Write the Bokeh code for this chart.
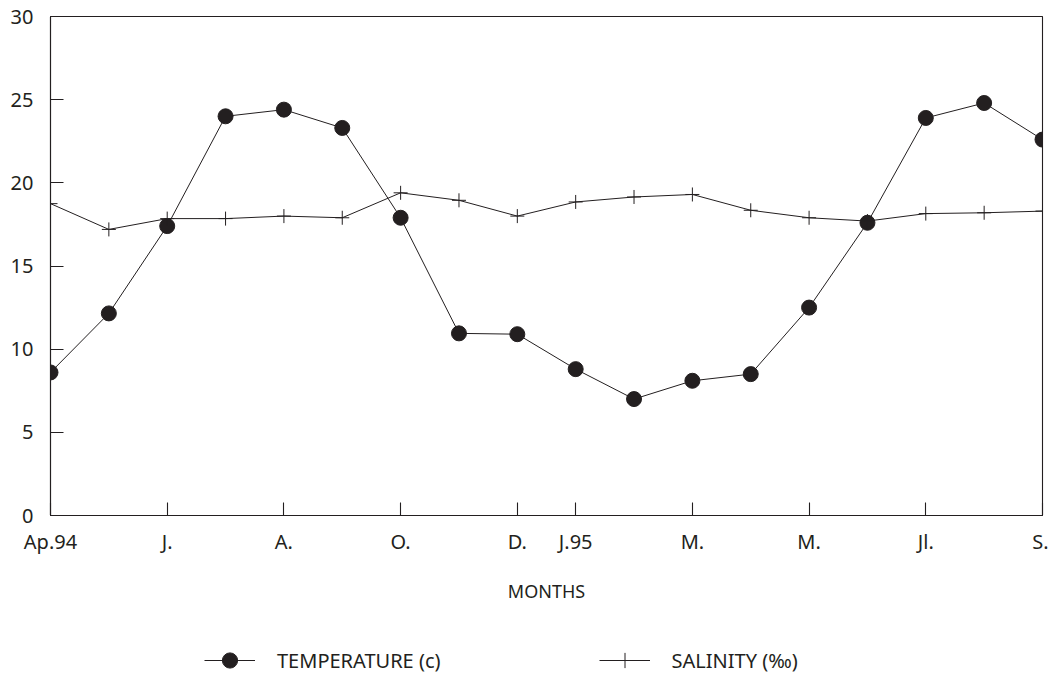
from bokeh.plotting import figure
from bokeh.layouts import column
from bokeh.models import FixedTicker, Legend, LegendItem, Range1d
from bokeh.embed import file_html
from bokeh.resources import INLINE

# Monthly samples, April 1994 .. September 1995
month_index = list(range(18))
temperature = [8.6, 12.15, 17.4, 24.0, 24.4, 23.3, 17.9, 10.95, 10.9, 8.8,
               7.0, 8.1, 8.5, 12.5, 17.6, 23.9, 24.8, 22.6]
salinity = [18.75, 17.2, 17.85, 17.85, 18.0, 17.9, 19.4, 18.95, 18.0, 18.85,
            19.15, 19.3, 18.35, 17.9, 17.7, 18.15, 18.2, 18.3]

tick_positions = [0, 2, 4, 6, 8, 9, 11, 13, 15, 17]
tick_labels = ["Ap.94", "J.", "A.", "O.", "D.", "J.95", "M.", "M.", "Jl.", "S."]
y_ticks = [0, 5, 10, 15, 20, 25, 30]
legend_labels = ["TEMPERATURE (c)", "SALINITY (‰)"]

INK = "#231f20"
FONT = "Noto Sans"

p = figure(frame_width=992, frame_height=499, output_backend="svg",
           toolbar_location=None,
           x_range=Range1d(0, 17), y_range=Range1d(0, 30),
           min_border_left=50, min_border_right=6, min_border_top=16,
           min_border_bottom=88)
p.grid.visible = False
p.outline_line_color = INK
p.outline_line_width = 1.1
p.background_fill_color = "white"
p.border_fill_color = "white"

# axes
p.xaxis.ticker = FixedTicker(ticks=tick_positions)
p.xaxis.major_label_overrides = {k: v for k, v in zip(tick_positions, tick_labels)}
p.yaxis.ticker = FixedTicker(ticks=y_ticks)
for ax in (p.xaxis[0], p.yaxis[0]):
    ax.major_tick_in = 13
    ax.major_tick_out = 0
    ax.minor_tick_in = 0
    ax.minor_tick_out = 0
    ax.axis_line_color = INK
    ax.axis_line_width = 1.1
    ax.major_tick_line_color = INK
    ax.major_tick_line_width = 1.1
    ax.major_label_text_font = FONT
    ax.major_label_text_font_size = "20px"
    ax.major_label_text_color = INK
p.xaxis.major_label_standoff = 12
p.yaxis.major_label_standoff = 17
p.xaxis.axis_label = "MONTHS"
p.xaxis.axis_label_text_font = FONT
p.xaxis.axis_label_text_font_style = "normal"
p.xaxis.axis_label_text_font_size = "18px"
p.xaxis.axis_label_text_color = INK
p.xaxis.axis_label_standoff = 21


def draw_series(fig, cross_size):
    lt = fig.line(month_index, temperature, line_color=INK, line_width=1.0)
    mt = fig.scatter(month_index, temperature, marker="circle", size=15,
                     fill_color=INK, line_color=INK)
    ls = fig.line(month_index, salinity, line_color=INK, line_width=1.0)
    ms = fig.scatter(month_index, salinity, marker="cross", size=cross_size,
                     line_color=INK, line_width=1)
    return lt, mt, ls, ms


draw_series(p, 14)

# legend strip below the chart (its copies of the series lie outside its view)
p2 = figure(width=1048, height=79, output_backend="svg", toolbar_location=None,
            x_range=Range1d(100, 101), y_range=Range1d(100, 101),
            x_axis_type=None, y_axis_type=None, min_border=0)
p2.grid.visible = False
p2.outline_line_color = None
lt, mt, ls, ms = draw_series(p2, 19)

legend = Legend(items=[
    LegendItem(label=legend_labels[0], renderers=[lt, mt], index=0),
    LegendItem(label=legend_labels[1], renderers=[ls, ms], index=0),
], orientation="horizontal", location=(154, 5))
legend.glyph_width = 51
legend.glyph_height = 38
legend.label_standoff = 22
legend.spacing = 158
legend.padding = 2
legend.margin = 0
legend.border_line_color = None
legend.background_fill_alpha = 0
legend.label_text_font = FONT
legend.label_text_font_size = "20px"
legend.label_text_color = INK
p2.add_layout(legend, "center")

open("out.html", "w").write(file_html(column(p, p2, spacing=0), INLINE))
